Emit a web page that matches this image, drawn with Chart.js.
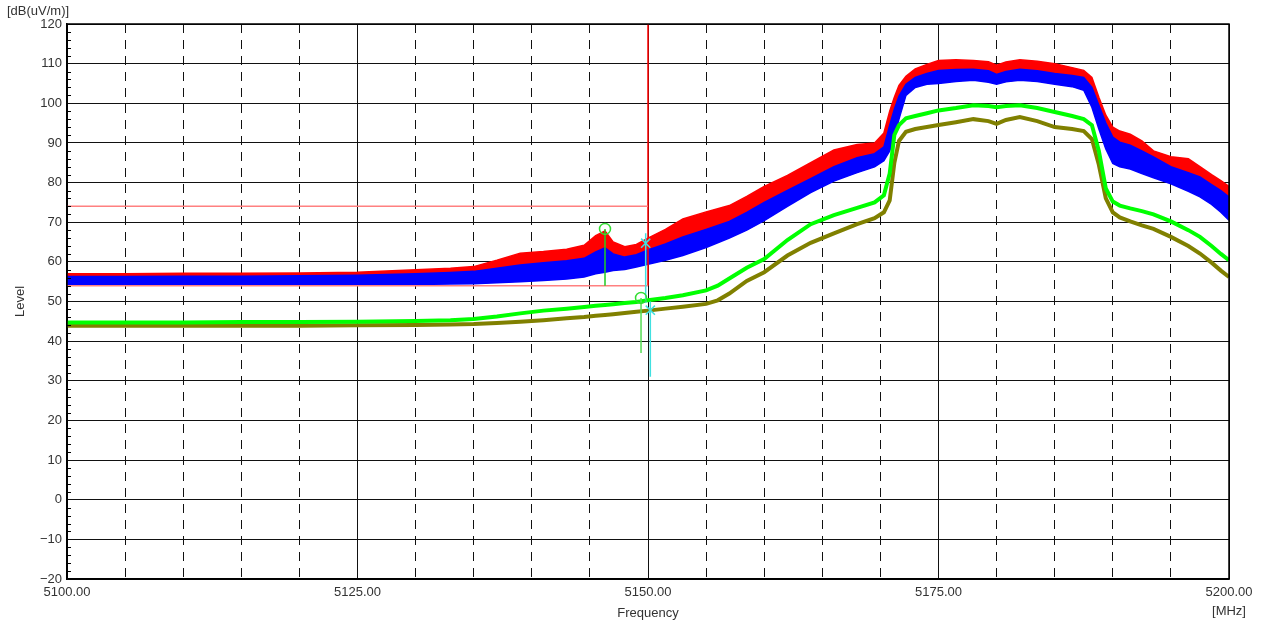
<!DOCTYPE html>
<html>
<head>
<meta charset="utf-8">
<script src="https://cdn.jsdelivr.net/npm/chart.js@4/dist/chart.umd.min.js"></script>
<style>
  html, body { margin: 0; padding: 0; background: #fff; }
</style>
</head>
<body>
<canvas id="chart" width="1261" height="624"></canvas>
<script>
// frequency points (MHz)
const freq = [5100, 5105, 5110, 5115, 5120, 5125, 5130, 5133, 5135, 5137, 5139, 5141, 5143, 5144.5, 5145.5, 5146.3,
  5147, 5148, 5149, 5150, 5151.5, 5153, 5155, 5156, 5157, 5158.5, 5160, 5162, 5164, 5166, 5168, 5169.5,
  5170.3, 5170.8, 5171.2, 5171.6, 5172.2, 5173, 5174, 5175, 5176.5, 5178, 5179.3, 5180, 5180.8, 5182, 5183.5, 5185,
  5186.5, 5187.5, 5188.2, 5188.8, 5189.4, 5190, 5190.6, 5191.5, 5192.5, 5193.5, 5195, 5196.5, 5197.5, 5198.5, 5199.3, 5200];

// peak trace, top of the noise band (red)
const redHigh = [57.0, 57.0, 57.1, 57.1, 57.2, 57.4, 58.0, 58.4, 58.8, 60.4, 62.2, 62.6, 63.2, 64.2, 66.6, 67.8,
  65.0, 63.8, 64.4, 66.0, 68.2, 70.8, 72.6, 73.4, 74.2, 76.5, 79.0, 81.8, 85.0, 88.2, 89.6, 90.0,
  92.5, 98.0, 101.5, 104.5, 106.8, 108.7, 109.8, 110.8, 111.0, 110.8, 110.5, 109.6, 110.4, 111.0, 110.6, 110.0,
  109.0, 108.3, 106.5, 101.5, 97.0, 94.0, 93.0, 92.2, 90.5, 88.0, 86.5, 86.0, 84.0, 82.0, 80.5, 79.0];

// second peak trace band (blue)
const blueHigh = [56.3, 56.3, 56.4, 56.4, 56.5, 56.6, 57.0, 57.3, 57.6, 58.4, 59.2, 59.8, 60.3, 60.9, 62.5, 63.5,
  62.0, 61.2, 61.8, 63.0, 64.5, 66.3, 68.2, 69.2, 70.2, 72.5, 75.0, 78.0, 81.0, 84.0, 86.3, 87.3,
  89.0, 94.5, 98.5, 101.8, 104.8, 106.5, 107.5, 108.3, 108.5, 108.6, 108.2, 107.3, 108.0, 108.6, 108.2, 107.5,
  107.0, 106.5, 104.0, 99.5, 95.0, 91.5, 90.2, 89.4, 88.0, 86.5, 84.0, 82.5, 81.4, 79.5, 78.0, 76.4];
const blueLow = [54.2, 54.2, 54.2, 54.2, 54.2, 54.3, 54.3, 54.4, 54.5, 54.7, 55.0, 55.3, 55.7, 56.2, 57.0, 57.4,
  57.8, 58.1, 58.7, 59.4, 60.4, 61.6, 63.6, 64.8, 66.0, 68.0, 70.4, 74.0, 77.5, 80.4, 82.5, 84.0,
  85.5, 88.0, 91.5, 96.0, 102.0, 104.0, 104.8, 105.0, 105.5, 105.8, 105.3, 104.8, 105.4, 105.8, 105.5, 104.8,
  104.2, 103.3, 99.0, 93.5, 88.5, 84.8, 84.0, 83.4, 82.3, 81.2, 79.7, 77.8, 76.4, 74.5, 72.5, 70.5];

// average traces
const greenLevel = [44.7, 44.7, 44.7, 44.8, 44.8, 44.9, 45.1, 45.3, 45.6, 46.2, 47.0, 47.7, 48.2, 48.6, 48.9, 49.1,
  49.3, 49.6, 49.9, 50.3, 50.9, 51.6, 52.8, 54.0, 55.8, 58.5, 60.7, 65.5, 69.5, 71.8, 73.6, 75.0,
  76.8, 82.3, 92.0, 94.5, 96.2, 96.8, 97.5, 98.2, 98.8, 99.5, 99.3, 99.0, 99.3, 99.5, 98.8, 97.8,
  96.8, 96.0, 94.5, 88.0, 78.5, 75.2, 74.2, 73.5, 72.8, 72.0, 70.2, 68.0, 66.3, 64.0, 62.0, 60.4];
const oliveLevel = [43.9, 43.9, 43.9, 43.9, 43.9, 44.0, 44.1, 44.2, 44.3, 44.6, 44.9, 45.3, 45.8, 46.1, 46.4, 46.6,
  46.8, 47.1, 47.4, 47.7, 48.2, 48.7, 49.4, 50.3, 52.0, 55.2, 57.4, 61.6, 64.8, 67.2, 69.5, 71.0,
  72.5, 75.5, 85.0, 90.5, 92.8, 93.5, 94.0, 94.5, 95.2, 96.0, 95.5, 94.8, 95.8, 96.5, 95.5, 94.0,
  93.5, 93.0, 91.0, 84.5, 76.0, 72.5, 71.2, 70.2, 69.2, 68.3, 66.3, 64.0, 62.1, 59.8, 57.8, 56.2];

// limit lines
const limitFreq = [5100, 5150];
const limitPeak = 74;
const limitAvg = 54;
const limitTop = 120;

// markers
const peakFreq = [5146.3, 5149.4];
const peakLevel = [68.3, 50.9];
const peakFloor = [54, 37];
const edgeFreq = [5149.8, 5150.2];
const edgeLevel = [64.7, 47.8];
const edgeTop = [67.2, 50.0];
const edgeFloor = [49.6, 31.0];

const FONT = "'Liberation Sans', Arial, sans-serif";
const TXT = '#333';

function pts(ys) {
  return freq.map((f, i) => ({ x: f, y: ys[i] }));
}
function seg(x1, y1, x2, y2) {
  return [{ x: x1, y: y1 }, { x: x2, y: y2 }];
}
function lineDs(data, color, width, order) {
  return { data: data, borderColor: color, borderWidth: width, pointRadius: 0, fill: false, tension: 0, order: order };
}

const datasets = [
  { data: pts(redHigh), borderColor: '#ff0000', backgroundColor: '#ff0000', borderWidth: 1.5,
    pointRadius: 0, tension: 0, fill: { target: 2 }, order: 10 },
  { data: pts(blueHigh), borderColor: '#0000ff', backgroundColor: '#0000ff', borderWidth: 1.5,
    pointRadius: 0, tension: 0, fill: '+1', order: 9 },
  lineDs(pts(blueLow), '#0000ff', 1.5, 9),
  lineDs(pts(oliveLevel), '#808000', 4, 8),
  lineDs(pts(greenLevel), '#00ff00', 4, 7),
  lineDs(seg(limitFreq[0], limitPeak, limitFreq[1], limitPeak), '#ff8080', 1.5, 5),
  lineDs(seg(limitFreq[0], limitAvg, limitFreq[1], limitAvg), '#ff8080', 1.5, 5),
  lineDs(seg(limitFreq[1], limitTop, limitFreq[1], limitAvg), '#ff0000', 1.5, 5),
  lineDs(seg(peakFreq[0], peakLevel[0], peakFreq[0], peakFloor[0]), '#22cc22', 1.5, 2),
  lineDs(seg(peakFreq[1], peakLevel[1], peakFreq[1], peakFloor[1]), '#55dd55', 1.5, 2),
  lineDs(seg(edgeFreq[0], edgeTop[0], edgeFreq[0], edgeFloor[0]), '#40e0e0', 1.5, 2),
  lineDs(seg(edgeFreq[1], edgeTop[1], edgeFreq[1], edgeFloor[1]), '#40e0e0', 1.5, 2),
  { type: 'scatter', data: peakFreq.map((f, i) => ({ x: f, y: peakLevel[i] })), pointStyle: 'circle',
    pointRadius: 5.5, pointBorderColor: '#33dd33', pointBackgroundColor: 'rgba(0,0,0,0)', pointBorderWidth: 1.5, order: 1 },
  { type: 'scatter', data: edgeFreq.map((f, i) => ({ x: f, y: edgeLevel[i] })), pointStyle: 'crossRot',
    pointRadius: 6.5, pointBorderColor: '#40e0e0', pointBorderWidth: 1.5, order: 1 }
];

const framePlugin = {
  id: 'frame',
  afterDraw(chart) {
    const { ctx, chartArea: a, scales } = chart;
    ctx.save();
    // minor ticks on the level axis
    ctx.strokeStyle = '#000';
    ctx.lineWidth = 1;
    scales.y.ticks.forEach(t => {
      if (Math.round(t.value) % 10 === 0) return;
      const y = Math.round(scales.y.getPixelForValue(t.value)) + 0.5;
      ctx.beginPath();
      ctx.moveTo(a.left, y);
      ctx.lineTo(a.left + 4, y);
      ctx.stroke();
    });
    ctx.lineWidth = 1.5;
    ctx.strokeRect(a.left, a.top, a.right - a.left, a.bottom - a.top);
    // unit labels
    ctx.fillStyle = TXT;
    ctx.font = '13px ' + FONT;
    ctx.textBaseline = 'middle';
    ctx.textAlign = 'left';
    ctx.fillText('[dB(uV/m)]', 7, 11);
    ctx.textAlign = 'center';
    ctx.fillText('[MHz]', a.right, 611);
    ctx.restore();
  }
};

new Chart(document.getElementById('chart'), {
  type: 'line',
  data: { datasets: datasets },
  options: {
    responsive: false,
    animation: false,
    layout: { padding: { left: 0, top: 24, right: 32, bottom: 0 } },
    plugins: { legend: { display: false }, tooltip: { enabled: false } },
    scales: {
      x: {
        type: 'linear', min: 5100, max: 5200,
        afterFit: s => { s.height = 45; },
        ticks: {
          stepSize: 5, autoSkip: false, maxTicksLimit: 100, maxRotation: 0, padding: 6,
          color: TXT, font: { family: FONT, size: 13 },
          callback: v => (Math.round(v) % 25 === 0 ? Number(v).toFixed(2) : '')
        },
        grid: { color: '#111', lineWidth: 1, drawTicks: false },
        border: {
          color: '#000', width: 1.5,
          dash: c => (c.tick && Math.round(c.tick.value) % 25 !== 0 ? [9, 7] : [])
        },
        title: { display: true, text: 'Frequency', color: TXT, font: { family: FONT, size: 13 }, padding: { top: 0, bottom: 3 } }
      },
      y: {
        min: -20, max: 120,
        afterFit: s => { s.width = 67; },
        ticks: {
          stepSize: 2, autoSkip: false, maxTicksLimit: 100, padding: 5,
          color: TXT, font: { family: FONT, size: 13 },
          callback: v => {
            const r = Math.round(v);
            if (r % 10 !== 0) return '';
            return r < 0 ? '\u2212' + Math.abs(r) : String(r);
          }
        },
        grid: {
          drawTicks: false, lineWidth: 1,
          color: c => (c.tick && Math.round(c.tick.value) % 10 === 0 ? '#111' : 'rgba(0,0,0,0)')
        },
        border: { color: '#000', width: 1.5 },
        title: { display: true, text: 'Level', color: TXT, font: { family: FONT, size: 13 }, padding: { top: 13, bottom: 0 } }
      }
    }
  },
  plugins: [framePlugin]
});
</script>
</body>
</html>
